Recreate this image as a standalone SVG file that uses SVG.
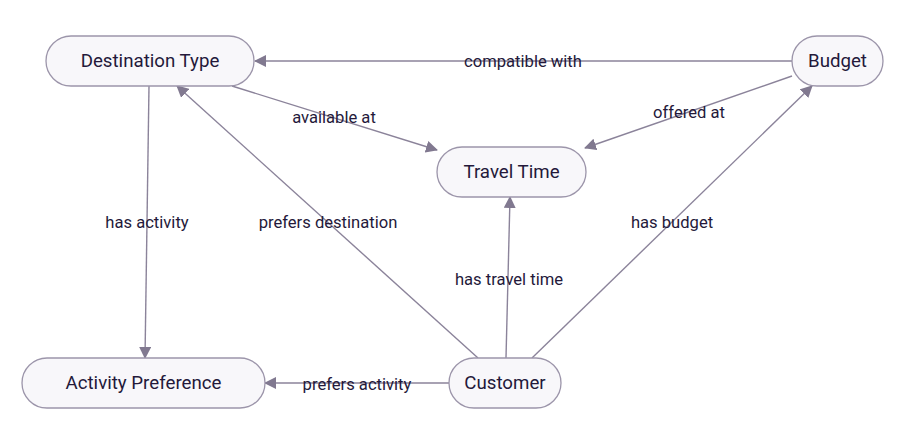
<svg xmlns="http://www.w3.org/2000/svg" width="904" height="432" viewBox="0 0 904 432">
<defs>
<style>
.node rect{fill:#f8f7fa;stroke:#9c95aa;stroke-width:1.3}
.node text{font-family:Roboto,"Liberation Sans",sans-serif;font-size:18.7px;fill:#24193a;text-anchor:middle;dominant-baseline:central}
.edge line{stroke:#8b839a;stroke-width:1.4;fill:none}
.lbl{font-family:Roboto,"Liberation Sans",sans-serif;font-size:16.6px;fill:#24193a;text-anchor:middle;dominant-baseline:central}
</style>
<marker id="arr" viewBox="0 0 12 12" refX="11" refY="6" markerWidth="12" markerHeight="12" markerUnits="userSpaceOnUse" orient="auto">
<path d="M0,0 L12,6 L0,12 Z" fill="#817990"/>
</marker>
</defs>
<rect width="904" height="432" fill="#ffffff"/>
<g id="connectors" class="edge">
<line x1="792" y1="61" x2="255" y2="61" marker-end="url(#arr)"/>
<line x1="232" y1="86" x2="437" y2="150" marker-end="url(#arr)"/>
<line x1="792" y1="76" x2="585" y2="148" marker-end="url(#arr)"/>
<line x1="149" y1="86" x2="145" y2="358" marker-end="url(#arr)"/>
<line x1="478" y1="358" x2="177" y2="86" marker-end="url(#arr)"/>
<line x1="506" y1="358" x2="510" y2="197" marker-end="url(#arr)"/>
<line x1="532" y1="358" x2="812" y2="86" marker-end="url(#arr)"/>
<line x1="449" y1="383" x2="265" y2="383" marker-end="url(#arr)"/>
<text class="lbl" x="523" y="61">compatible with</text>
<text class="lbl" x="334" y="117">available at</text>
<text class="lbl" x="689" y="112">offered at</text>
<text class="lbl" x="147" y="222">has activity</text>
<text class="lbl" x="328" y="222">prefers destination</text>
<text class="lbl" x="509" y="279">has travel time</text>
<text class="lbl" x="672" y="222">has budget</text>
<text class="lbl" x="357" y="384">prefers activity</text>
</g>
<g id="destination-type" class="node">
<rect x="46" y="36" width="208" height="50" rx="25"/>
<text x="150" y="61">Destination Type</text>
</g>
<g id="budget" class="node">
<rect x="792" y="36" width="91" height="50" rx="25"/>
<text x="837.5" y="61">Budget</text>
</g>
<g id="travel-time" class="node">
<rect x="437" y="147" width="149" height="50" rx="25"/>
<text x="511.5" y="172">Travel Time</text>
</g>
<g id="activity-preference" class="node">
<rect x="22" y="358" width="243" height="50" rx="25"/>
<text x="143.5" y="383">Activity Preference</text>
</g>
<g id="customer" class="node">
<rect x="449" y="358" width="112" height="50" rx="25"/>
<text x="505" y="383">Customer</text>
</g>
</svg>
